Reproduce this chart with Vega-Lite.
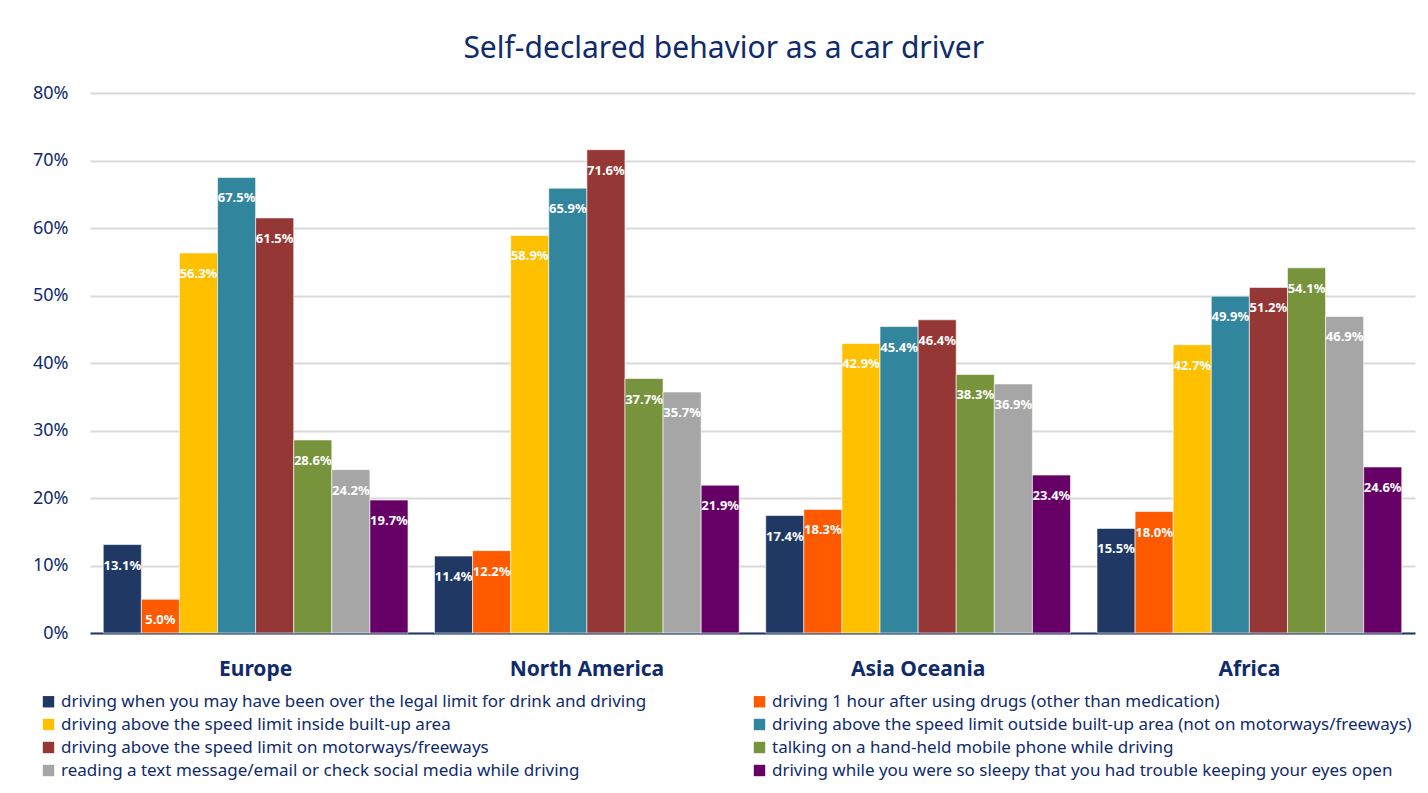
{
  "$schema": "https://vega.github.io/schema/vega-lite/v6.json",
  "autosize": "none",
  "width": 1325,
  "height": 540,
  "padding": {"left": 90, "top": 93, "right": 13, "bottom": 160},
  "background": "white",
  "title": {
    "text": "Self-declared behavior as a car driver",
    "anchor": "middle",
    "frame": "bounds",
    "fontSize": 30,
    "fontWeight": "normal",
    "font": "Noto Sans",
    "color": "#0F2B6B",
    "offset": 20
  },
  "config": {
    "font": "Noto Sans",
    "view": {"stroke": null}
  },
  "datasets": {
    "rows": [
      {"region": "Europe", "behavior": "driving when you may have been over the legal limit for drink and driving", "value": 0.131},
      {"region": "Europe", "behavior": "driving 1 hour after using drugs (other than medication)", "value": 0.050},
      {"region": "Europe", "behavior": "driving above the speed limit inside built-up area", "value": 0.563},
      {"region": "Europe", "behavior": "driving above the speed limit outside built-up area (not on motorways/freeways)", "value": 0.675},
      {"region": "Europe", "behavior": "driving above the speed limit on motorways/freeways", "value": 0.615},
      {"region": "Europe", "behavior": "talking on a hand-held mobile phone while driving", "value": 0.286},
      {"region": "Europe", "behavior": "reading a text message/email or check social media while driving", "value": 0.242},
      {"region": "Europe", "behavior": "driving while you were so sleepy that you had trouble keeping your eyes open", "value": 0.197},
      {"region": "North America", "behavior": "driving when you may have been over the legal limit for drink and driving", "value": 0.114},
      {"region": "North America", "behavior": "driving 1 hour after using drugs (other than medication)", "value": 0.122},
      {"region": "North America", "behavior": "driving above the speed limit inside built-up area", "value": 0.589},
      {"region": "North America", "behavior": "driving above the speed limit outside built-up area (not on motorways/freeways)", "value": 0.659},
      {"region": "North America", "behavior": "driving above the speed limit on motorways/freeways", "value": 0.716},
      {"region": "North America", "behavior": "talking on a hand-held mobile phone while driving", "value": 0.377},
      {"region": "North America", "behavior": "reading a text message/email or check social media while driving", "value": 0.357},
      {"region": "North America", "behavior": "driving while you were so sleepy that you had trouble keeping your eyes open", "value": 0.219},
      {"region": "Asia Oceania", "behavior": "driving when you may have been over the legal limit for drink and driving", "value": 0.174},
      {"region": "Asia Oceania", "behavior": "driving 1 hour after using drugs (other than medication)", "value": 0.183},
      {"region": "Asia Oceania", "behavior": "driving above the speed limit inside built-up area", "value": 0.429},
      {"region": "Asia Oceania", "behavior": "driving above the speed limit outside built-up area (not on motorways/freeways)", "value": 0.454},
      {"region": "Asia Oceania", "behavior": "driving above the speed limit on motorways/freeways", "value": 0.464},
      {"region": "Asia Oceania", "behavior": "talking on a hand-held mobile phone while driving", "value": 0.383},
      {"region": "Asia Oceania", "behavior": "reading a text message/email or check social media while driving", "value": 0.369},
      {"region": "Asia Oceania", "behavior": "driving while you were so sleepy that you had trouble keeping your eyes open", "value": 0.234},
      {"region": "Africa", "behavior": "driving when you may have been over the legal limit for drink and driving", "value": 0.155},
      {"region": "Africa", "behavior": "driving 1 hour after using drugs (other than medication)", "value": 0.180},
      {"region": "Africa", "behavior": "driving above the speed limit inside built-up area", "value": 0.427},
      {"region": "Africa", "behavior": "driving above the speed limit outside built-up area (not on motorways/freeways)", "value": 0.499},
      {"region": "Africa", "behavior": "driving above the speed limit on motorways/freeways", "value": 0.512},
      {"region": "Africa", "behavior": "talking on a hand-held mobile phone while driving", "value": 0.541},
      {"region": "Africa", "behavior": "reading a text message/email or check social media while driving", "value": 0.469},
      {"region": "Africa", "behavior": "driving while you were so sleepy that you had trouble keeping your eyes open", "value": 0.246}
    ]
  },
  "data": {"name": "rows"},
  "encoding": {
    "x": {
      "field": "region",
      "type": "nominal",
      "sort": ["Europe", "North America", "Asia Oceania", "Africa"],
      "scale": {"paddingInner": 0.08, "paddingOuter": 0.04},
      "axis": {
        "title": null,
        "labelAngle": 0,
        "labelFontSize": 21,
        "labelFontWeight": "bold",
        "labelColor": "#0F2B6B",
        "labelPadding": 25,
        "ticks": false,
        "domainColor": "#1F3864",
        "domainWidth": 2
      }
    },
    "xOffset": {
      "field": "behavior",
      "type": "nominal",
      "sort": [
        "driving when you may have been over the legal limit for drink and driving",
        "driving 1 hour after using drugs (other than medication)",
        "driving above the speed limit inside built-up area",
        "driving above the speed limit outside built-up area (not on motorways/freeways)",
        "driving above the speed limit on motorways/freeways",
        "talking on a hand-held mobile phone while driving",
        "reading a text message/email or check social media while driving",
        "driving while you were so sleepy that you had trouble keeping your eyes open"
      ],
      "scale": {"paddingInner": 0, "paddingOuter": 0}
    },
    "y": {
      "field": "value",
      "type": "quantitative",
      "scale": {"domain": [0, 0.8]},
      "axis": {
        "title": null,
        "format": ".0%",
        "values": [0, 0.1, 0.2, 0.3, 0.4, 0.5, 0.6, 0.7, 0.8],
        "labelOverlap": false,
        "labelFontSize": 18,
        "labelColor": "#0F2B6B",
        "labelPadding": 22,
        "ticks": false,
        "domain": false,
        "gridColor": "#D9D9D9",
        "gridWidth": 2
      }
    }
  },
  "layer": [
    {
      "mark": {"type": "bar", "stroke": "white", "strokeWidth": 0.6},
      "encoding": {
        "color": {
          "field": "behavior",
          "type": "nominal",
          "scale": {
            "domain": [
              "driving when you may have been over the legal limit for drink and driving",
              "driving above the speed limit inside built-up area",
              "driving above the speed limit on motorways/freeways",
              "reading a text message/email or check social media while driving",
              "driving 1 hour after using drugs (other than medication)",
              "driving above the speed limit outside built-up area (not on motorways/freeways)",
              "talking on a hand-held mobile phone while driving",
              "driving while you were so sleepy that you had trouble keeping your eyes open"
            ],
            "range": ["#203864", "#FFC000", "#953735", "#A6A6A6", "#FF5A00", "#31859C", "#77933C", "#660066"]
          },
          "legend": {
            "title": null,
            "orient": "none",
            "legendX": -50,
            "legendY": 600,
            "columns": 2,
            "columnPadding": 104,
            "rowPadding": 5,
            "symbolType": "square",
            "symbolSize": 130,
            "symbolStrokeWidth": 0,
            "labelFontSize": 17,
            "labelColor": "#0F2B6B",
            "labelLimit": 800,
            "labelOffset": 4
          }
        }
      }
    },
    {
      "mark": {"type": "text", "color": "white", "fontWeight": "bold", "fontSize": 13, "baseline": "middle", "dy": 21},
      "encoding": {
        "text": {"field": "value", "type": "quantitative", "format": ".1%"}
      }
    }
  ]
}
